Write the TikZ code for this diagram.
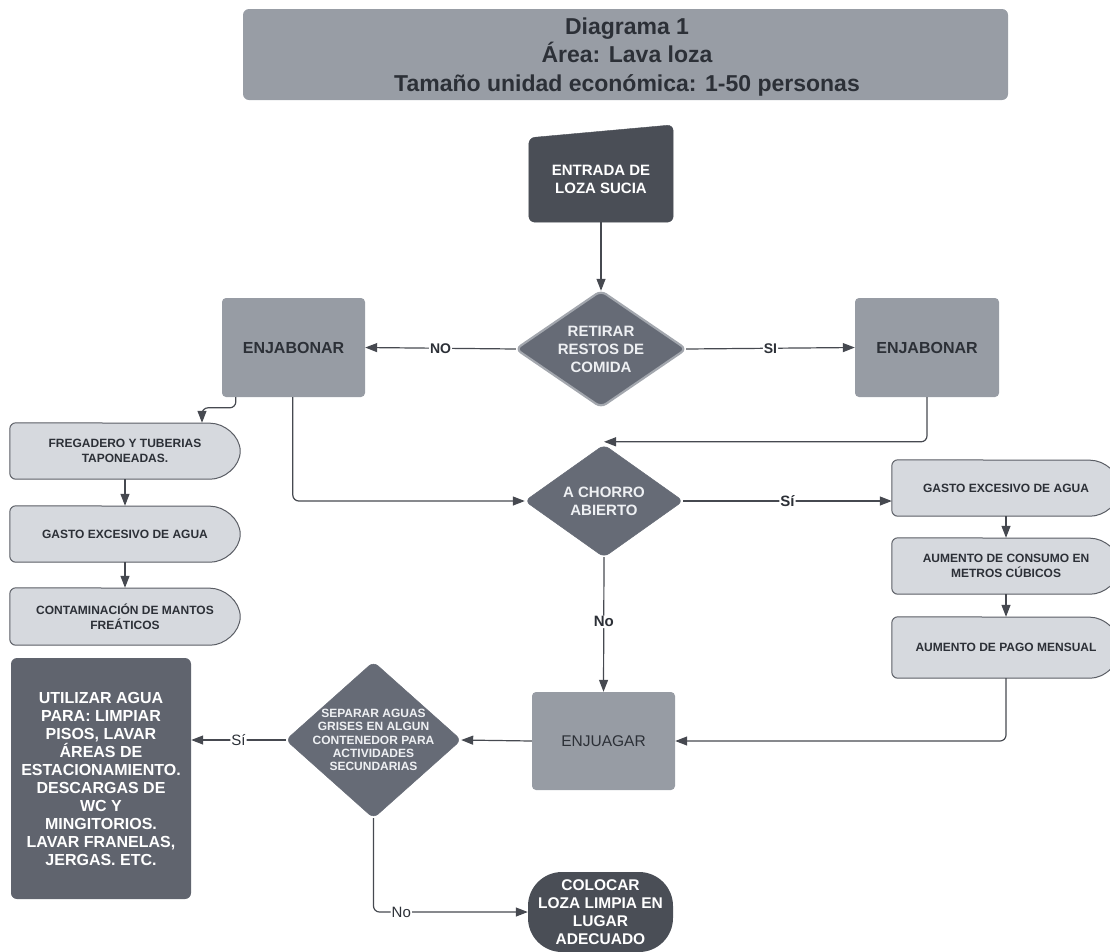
\documentclass[tikz,border=0pt]{standalone}
\usepackage{fontspec}
\setmainfont{Liberation Sans}
\usetikzlibrary{arrows.meta,backgrounds,calc}

\definecolor{titlegray}{HTML}{989DA5}
\definecolor{midgray}{HTML}{979CA4}
\definecolor{slatedark}{HTML}{4A4E56}
\definecolor{diagray}{HTML}{666B76}
\definecolor{diaborder}{HTML}{A3A7AE}
\definecolor{boxdark}{HTML}{60646E}
\definecolor{lightbox}{HTML}{D6D9DE}
\definecolor{lightedge}{HTML}{5B5E65}
\definecolor{inkdark}{HTML}{2C3037}
\definecolor{linegray}{HTML}{464950}
\definecolor{paletext}{HTML}{EEF0F3}

% rectangle with a rounded (delay-type) right end
\newcommand\delaypath[2]{%
  \draw[delayfill] (#1.north west) -- (#1.south west)
    -- ([xshift=-36pt]#1.south east)
    arc[start angle=-90, end angle=90, x radius=36pt, y radius=#2pt] -- cycle;}
% diamond drawn through the four side anchors of a node
\newcommand\diamondpath[2]{%
  \draw[#2] (#1.north) -- (#1.east) -- (#1.south) -- (#1.west) -- cycle;}

\begin{document}
\begin{tikzpicture}[x=1pt,y=-1pt,
  area/.style={inner sep=0pt,align=center},
  conn/.style={draw=linegray,line width=1.2pt,-{Triangle[length=12pt,width=9pt]},rounded corners=6pt},
  lblb/.style={fill=white,inner sep=1pt,text=inkdark,font=\fontsize{14}{14}\selectfont\bfseries},
  lblr/.style={fill=white,inner sep=1pt,text=inkdark,font=\fontsize{15}{15}\selectfont},
  midbox/.style={area,fill=midgray,rounded corners=4pt,text=inkdark},
  delayfill/.style={fill=lightbox,draw=lightedge,line width=1pt,rounded corners=6pt},
  delaytxt/.style={area,text=inkdark,font=\fontsize{12}{14.5}\selectfont\bfseries},
  diatxt/.style={area,text=paletext},
  diafill/.style={fill=diagray,draw=diagray,line width=0.5pt,rounded corners=6pt}]

\useasboundingbox (0,0) rectangle (1110,951);

% heading
\node[area,fill=titlegray,rounded corners=6pt,minimum width=765pt,minimum height=91pt,
      text=inkdark,font=\fontsize{23}{28.5}\selectfont\bfseries] (title) at (625.5,54.5) {};
\node[area,text=inkdark,font=\fontsize{23}{28.5}\selectfont\bfseries] (titletext) at (627,57)
  {Diagrama 1\\Área: Lava loza\\Tamaño unidad económica: 1-50 personas};

% main flow
\node[area,minimum width=144pt,minimum height=86pt,text=white,
      font=\fontsize{15}{18}\selectfont\bfseries] (entrada) at (601,179)
  {ENTRADA DE\\LOZA SUCIA};
\node[diatxt,minimum width=170pt,minimum height=116pt,
      font=\fontsize{15}{18}\selectfont\bfseries] (retirar) at (601,349)
  {RETIRAR\\RESTOS DE\\COMIDA};
\node[midbox,minimum width=143pt,minimum height=99pt,
      font=\fontsize{16}{18}\selectfont\bfseries] (enjL) at (293.5,347.5) {ENJABONAR};
\node[midbox,minimum width=144pt,minimum height=99pt,
      font=\fontsize{16}{18}\selectfont\bfseries] (enjR) at (927,347.5) {ENJABONAR};
\node[diatxt,minimum width=158pt,minimum height=112pt,
      font=\fontsize{15}{18}\selectfont\bfseries] (chorro) at (604,501)
  {A CHORRO\\ABIERTO};
\node[midbox,minimum width=143pt,minimum height=98pt,
      font=\fontsize{15.5}{18}\selectfont] (enjuagar) at (603.5,741) {ENJUAGAR};
\node[diatxt,minimum width=175pt,minimum height=156pt,
      font=\fontsize{12}{13.3}\selectfont\bfseries] (separar) at (373.5,740)
  {SEPARAR AGUAS\\GRISES EN ALGUN\\CONTENEDOR PARA\\ACTIVIDADES\\SECUNDARIAS};
\node[area,fill=boxdark,rounded corners=6pt,minimum width=180pt,minimum height=241pt,
      text=white,font=\fontsize{16}{18}\selectfont\bfseries] (utilizar) at (101,778.5)
  {UTILIZAR AGUA\\PARA: LIMPIAR\\PISOS, LAVAR\\ÁREAS DE\\ESTACIONAMIENTO.\\DESCARGAS DE\\WC Y\\MINGITORIOS.\\LAVAR FRANELAS,\\JERGAS. ETC.};
\node[area,fill=slatedark,rounded corners=34pt,minimum width=145pt,minimum height=80pt,
      text=white,font=\fontsize{15.5}{18}\selectfont\bfseries] (colocar) at (600.5,912)
  {COLOCAR\\LOZA LIMPIA EN\\LUGAR\\ADECUADO};

% consequences, left column
\node[delaytxt,minimum width=230pt,minimum height=56pt] (fregadero) at (125,451)
  {FREGADERO Y TUBERIAS\\TAPONEADAS.};
\node[delaytxt,minimum width=230pt,minimum height=56pt] (gastoL) at (125,534)
  {GASTO EXCESIVO DE AGUA};
\node[delaytxt,minimum width=230pt,minimum height=57pt] (contam) at (125,616.5)
  {CONTAMINACIÓN DE MANTOS\\FREÁTICOS};

% consequences, right column
\node[delaytxt,minimum width=228pt,minimum height=56pt] (gastoR) at (1006,488)
  {GASTO EXCESIVO DE AGUA};
\node[delaytxt,minimum width=228pt,minimum height=56pt] (consumo) at (1006,566)
  {AUMENTO DE CONSUMO EN\\METROS CÚBICOS};
\node[delaytxt,minimum width=228pt,minimum height=61pt] (pago) at (1006,647.5)
  {AUMENTO DE PAGO MENSUAL};

\begin{scope}[on background layer]
  \draw[fill=slatedark,draw=slatedark,rounded corners=6pt]
    (entrada.south west) -- (entrada.south east) -- ([yshift=11pt]entrada.north east)
    -- ([yshift=-2pt]entrada.north west) -- cycle;
  \diamondpath{retirar}{fill=diagray,draw=diaborder,line width=2.2pt,rounded corners=6pt}
  \diamondpath{chorro}{diafill}
  \diamondpath{separar}{diafill}
  \delaypath{fregadero}{28}
  \delaypath{gastoL}{28}
  \delaypath{contam}{28.5}
  \delaypath{gastoR}{28}
  \delaypath{consumo}{28}
  \delaypath{pago}{30.5}
\end{scope}

% connectors
\draw[conn] (entrada.south) -- (retirar.north);
\draw[conn] (retirar.west) -- node[lblb,pos=0.5] {NO} (enjL.east);
\draw[conn] (retirar.east) -- node[lblb,pos=0.5] {SI} (enjR.west);
\draw[conn] ([xshift=14pt]enjL.south west) |- ([xshift=77pt,yshift=15pt]fregadero.north)
  -- ([xshift=77pt]fregadero.north);
\draw[conn] (fregadero.south) -- (gastoL.north);
\draw[conn] (gastoL.south) -- (contam.north);
\draw[conn] ([xshift=71pt]enjL.south west) |- (chorro.west);
\draw[conn] (enjR.south) |- ([yshift=3pt]chorro.north);
\draw[conn] (chorro.east) -- node[lblb,font=\fontsize{15}{15}\selectfont\bfseries,pos=0.5] {Sí}
  (chorro.east -| gastoR.west);
\draw[conn] (gastoR.south) -- (consumo.north);
\draw[conn] (consumo.south) -- (pago.north);
\draw[conn] (chorro.south) -- node[lblb,font=\fontsize{15}{15}\selectfont\bfseries,pos=0.48] {No}
  (enjuagar.north);
\draw[conn] (pago.south) |- (enjuagar.east);
\draw[conn] (enjuagar.west) -- (separar.east);
\draw[conn] (separar.west) -- node[lblr,pos=0.5] {Sí} (separar.west -| utilizar.east);
\draw[conn] (separar.south) |- node[lblr,pos=0.59] {No} (colocar.west);

\end{tikzpicture}
\end{document}
